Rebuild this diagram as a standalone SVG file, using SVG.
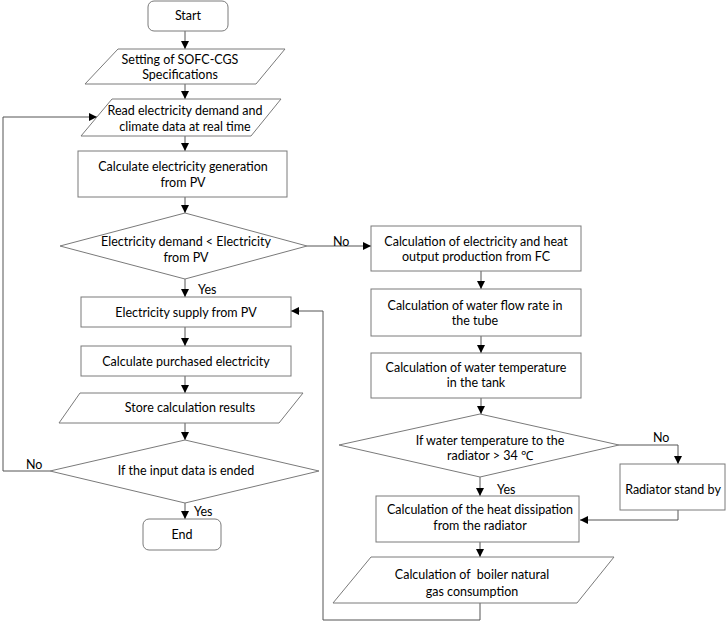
<svg xmlns="http://www.w3.org/2000/svg" width="726" height="621" viewBox="0 0 726 621">
<defs>
<marker id="ah" viewBox="0 0 10 10" refX="10" refY="5" markerWidth="8" markerHeight="8" markerUnits="userSpaceOnUse" orient="auto">
<path d="M0,0 L10,5 L0,10 z" fill="#000"/>
</marker>
</defs>
<style>
.s{fill:#fff;stroke:#7a7a7a;stroke-width:1}
.t{font-family:Lato,"Liberation Sans",sans-serif;font-size:12.5px;fill:#000;text-anchor:middle;white-space:pre}
.l{font-family:Lato,"Liberation Sans",sans-serif;font-size:12.5px;fill:#000}
.c{fill:none;stroke:#555;stroke-width:1}
.a{fill:none;stroke:#555;stroke-width:1;marker-end:url(#ah)}
</style>
<rect width="726" height="621" fill="#fff"/>
<g id="connectors">
<line class="a" x1="185" y1="31" x2="185" y2="49"/>
<line class="a" x1="185" y1="84" x2="185" y2="99"/>
<line class="a" x1="185" y1="136" x2="185" y2="151"/>
<line class="a" x1="185" y1="197" x2="185" y2="213"/>
<line class="a" x1="307" y1="246" x2="371" y2="246"/>
<line class="a" x1="185" y1="279" x2="185" y2="297"/>
<line class="a" x1="185" y1="327" x2="185" y2="346"/>
<line class="a" x1="185" y1="376" x2="185" y2="393"/>
<line class="a" x1="185" y1="423" x2="185" y2="440"/>
<line class="a" x1="185" y1="503" x2="185" y2="519"/>
<polyline class="a" points="50,471 3,471 3,117 97,117"/>
<line class="a" x1="481" y1="271" x2="481" y2="289"/>
<line class="a" x1="481" y1="336" x2="481" y2="353"/>
<line class="a" x1="481" y1="398" x2="481" y2="414"/>
<polyline class="a" points="619,445 678,445 678,464"/>
<line class="a" x1="480" y1="477" x2="480" y2="496"/>
<polyline class="a" points="678,510 678,520 580,520"/>
<line class="a" x1="480" y1="542" x2="480" y2="557"/>
<polyline class="a" points="480,603 480,620 323,620 323,311 291,311"/>
<text class="l" x="333" y="246">No</text>
<text class="l" x="198" y="294">Yes</text>
<text class="l" x="26" y="469">No</text>
<text class="l" x="194" y="516">Yes</text>
<text class="l" x="653" y="442">No</text>
<text class="l" x="497" y="494">Yes</text>
</g>
<g id="start"><rect class="s" x="148" y="1" width="80" height="30" rx="6"/><text class="t" x="188" y="20">Start</text></g>
<g id="setting"><polygon class="s" points="118,49 285,49 256,84 85,84"/><text class="t" x="180" y="64">Setting of SOFC-CGS</text><text class="t" x="180" y="79">Specifications</text></g>
<g id="read"><polygon class="s" points="112,99 281,99 251,136 81,136"/><text class="t" x="185" y="115">Read electricity demand and</text><text class="t" x="185" y="131">climate data at real time</text></g>
<g id="calcgen"><rect class="s" x="78" y="151" width="209" height="46"/><text class="t" x="183" y="171">Calculate electricity generation</text><text class="t" x="183" y="187">from PV</text></g>
<g id="dec1"><polygon class="s" points="185,213 307,246 185,279 60,246"/><text class="t" x="186" y="246">Electricity demand &lt; Electricity</text><text class="t" x="186" y="262">from PV</text></g>
<g id="supply"><rect class="s" x="81" y="297" width="210" height="30"/><text class="t" x="186" y="317">Electricity supply from PV</text></g>
<g id="purchased"><rect class="s" x="81" y="346" width="210" height="30"/><text class="t" x="186" y="366">Calculate purchased electricity</text></g>
<g id="store"><polygon class="s" points="80,393 303,393 279,423 59,423"/><text class="t" x="190" y="412">Store calculation results</text></g>
<g id="dec2"><polygon class="s" points="185,440 319,471 185,503 50,471"/><text class="t" x="186" y="475">If the input data is ended</text></g>
<g id="end"><rect class="s" x="143" y="519" width="78" height="31" rx="6"/><text class="t" x="182" y="539">End</text></g>
<g id="fc"><rect class="s" x="371" y="226" width="210" height="45"/><text class="t" x="476" y="246">Calculation of electricity and heat</text><text class="t" x="476" y="261">output production from FC</text></g>
<g id="flow"><rect class="s" x="371" y="289" width="210" height="47"/><text class="t" x="475" y="310">Calculation of water flow rate in</text><text class="t" x="475" y="325">the tube</text></g>
<g id="temp"><rect class="s" x="371" y="353" width="210" height="45"/><text class="t" x="476" y="372">Calculation of water temperature</text><text class="t" x="476" y="387">in the tank</text></g>
<g id="dec3"><polygon class="s" points="480,414 619,445 480,477 339,445"/><text class="t" x="490" y="445">If water temperature to the</text><text class="t" x="490" y="460">radiator &gt; 34 ℃</text></g>
<g id="standby"><rect class="s" x="620" y="464" width="105" height="46"/><text class="t" x="673" y="494">Radiator stand by</text></g>
<g id="heat"><rect class="s" x="376" y="496" width="203" height="46"/><text class="t" x="480" y="514">Calculation of the heat dissipation</text><text class="t" x="480" y="530">from the radiator</text></g>
<g id="boiler"><polygon class="s" points="371,557 614,557 577,603 333,603"/><text class="t" x="472" y="579">Calculation of  boiler natural</text><text class="t" x="472" y="596">gas consumption</text></g>
</svg>
